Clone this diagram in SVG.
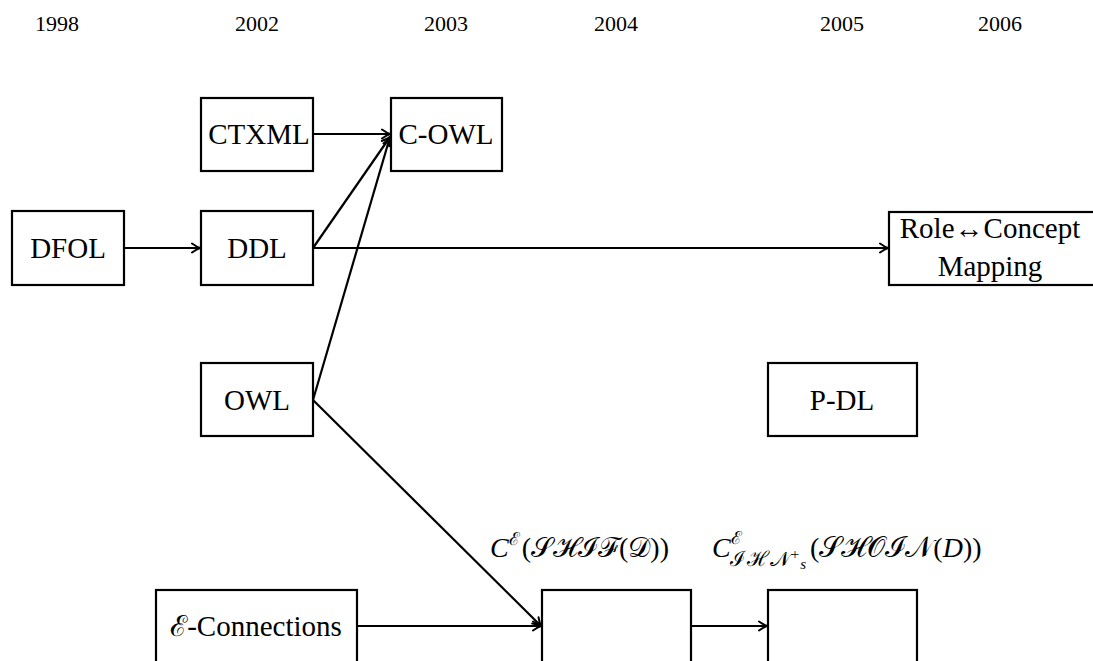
<svg xmlns="http://www.w3.org/2000/svg" width="1093" height="661" viewBox="0 0 1093 661">
<style>
.box{fill:#fff;stroke:#000;stroke-width:2.2}
.t{font-size:29px;fill:#000;text-anchor:middle}
.yr{font-size:22px;fill:#000;text-anchor:middle}
.m{font-size:28px;fill:#000}
.e{fill:none;stroke:#000;stroke-width:2.2}
</style>
<defs>
<marker id="ah" markerUnits="userSpaceOnUse" markerWidth="14" markerHeight="12" viewBox="-10 -6 12 12" refX="0" refY="0" orient="auto">
<path d="M-8,-4.5 Q-3,-1 0,0 Q-3,1 -8,4.5" fill="none" stroke="#000" stroke-width="2" stroke-linecap="round"/>
</marker>
</defs>
<rect width="1093" height="661" fill="#fff"/>
<g id="years" font-family="Liberation Serif">
<text class="yr" x="57" y="31">1998</text>
<text class="yr" x="257" y="31">2002</text>
<text class="yr" x="446" y="31">2003</text>
<text class="yr" x="616" y="31">2004</text>
<text class="yr" x="842" y="31">2005</text>
<text class="yr" x="1000" y="31">2006</text>
</g>
<g id="connectors">
<line class="e" x1="124" y1="248" x2="200" y2="248" marker-end="url(#ah)"/>
<line class="e" x1="313" y1="134" x2="390" y2="134" marker-end="url(#ah)"/>
<line class="e" x1="313" y1="248" x2="390" y2="137" marker-end="url(#ah)"/>
<line class="e" x1="313" y1="248" x2="888" y2="248" marker-end="url(#ah)"/>
<line class="e" x1="313" y1="400" x2="390" y2="137" marker-end="url(#ah)"/>
<line class="e" x1="313" y1="400" x2="541" y2="626" marker-end="url(#ah)"/>
<line class="e" x1="357" y1="626" x2="541" y2="626" marker-end="url(#ah)"/>
<line class="e" x1="691" y1="626" x2="767" y2="626" marker-end="url(#ah)"/>
</g>
<g font-family="Liberation Serif">
<g id="DFOL"><rect class="box" x="12" y="211" width="112" height="74"/><text class="t" x="68" y="258">DFOL</text></g>
<g id="DDL"><rect class="box" x="201" y="211" width="112" height="74"/><text class="t" x="257" y="258">DDL</text></g>
<g id="CTXML"><rect class="box" x="201" y="98" width="112" height="73"/><text class="t" x="259" y="144" font-size="28">CTXML</text></g>
<g id="COWL"><rect class="box" x="391" y="98" width="111" height="73"/><text class="t" x="446" y="144">C-OWL</text></g>
<g id="RoleConcept"><rect class="box" x="889" y="212" width="210" height="73"/><text class="t" x="990" y="238">Role↔Concept</text><text class="t" x="990" y="276">Mapping</text></g>
<g id="OWL"><rect class="box" x="201" y="363" width="112" height="73"/><text class="t" x="257" y="410">OWL</text></g>
<g id="PDL"><rect class="box" x="768" y="363" width="149" height="73"/><text class="t" x="842" y="410">P-DL</text></g>
<g id="EConnections"><rect class="box" x="156" y="590" width="201" height="110"/><text class="t" x="256" y="636"><tspan font-family="DejaVu Serif">ℰ</tspan>-Connections</text></g>
<g id="CSHIF"><rect class="box" x="542" y="590" width="149" height="110"/>
<text class="m" x="490" y="557"><tspan font-style="italic">C</tspan><tspan font-size="18" dy="-12" font-family="DejaVu Serif">ℰ</tspan><tspan dx="2" dy="12">(</tspan><tspan font-family="DejaVu Serif">𝒮ℋℐℱ</tspan>(<tspan font-family="DejaVu Serif">𝒟</tspan>))</text></g>
<g id="CSHOIN"><rect class="box" x="768" y="590" width="149" height="110"/>
<text class="m" x="712" y="557"><tspan font-style="italic">C</tspan><tspan font-size="18" dy="-13" font-family="DejaVu Serif">ℰ</tspan><tspan font-size="21" dx="-12" dy="22" font-family="DejaVu Serif" letter-spacing="1">ℐℋ𝒩</tspan><tspan font-size="15" dy="-7">+</tspan><tspan font-size="15" dx="1" dy="10" font-style="italic">s</tspan><tspan dx="4" dy="-12">(</tspan><tspan font-family="DejaVu Serif" font-size="29">𝒮ℋ𝒪ℐ𝒩</tspan>(<tspan font-style="italic">D</tspan>))</text></g>
</g>
</svg>
